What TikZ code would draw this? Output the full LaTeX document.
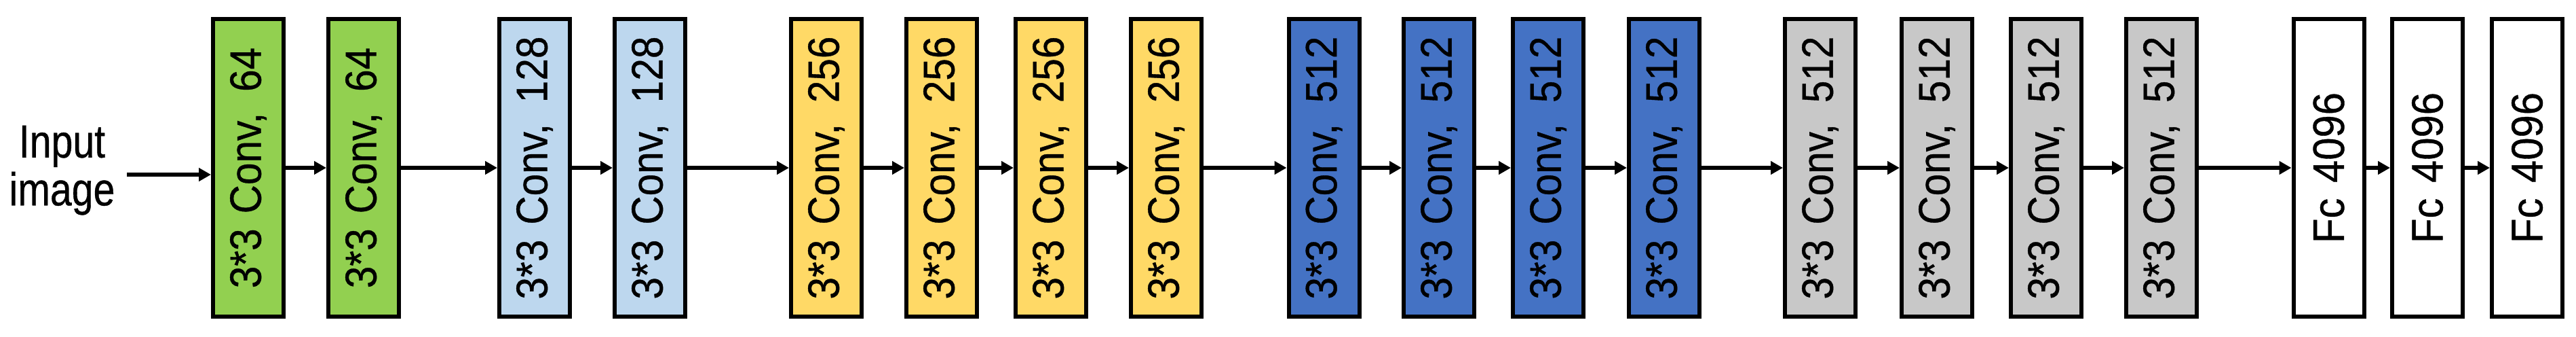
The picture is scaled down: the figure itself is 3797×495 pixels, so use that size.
\documentclass[tikz,border=0pt]{standalone}
\usepackage{fontspec}
\setmainfont{Liberation Sans}
\newfontfamily\lyrfont{Liberation Sans}[FakeBold=0.6]
\usepackage{graphicx}
\usetikzlibrary{arrows.meta}
\definecolor{cgreen}{HTML}{92D050}
\definecolor{clblue}{HTML}{BDD7EE}
\definecolor{cyellow}{HTML}{FFD966}
\definecolor{cdblue}{HTML}{4472C4}
\definecolor{cgray}{HTML}{C8C8C8}
\newcommand\convtxt[1]{\rotatebox{90}{\scalebox{0.9}[1]{3*3\hspace{0.1em} Conv,\hspace{0.25em} #1}}}
\newcommand\fctxt[1]{\rotatebox{90}{\scalebox{0.92}[1]{Fc\hspace{0.1em} #1}}}
\begin{document}
\begin{tikzpicture}[x=0.1mm,y=-0.1mm,
  layer/.style={draw=black, line width=0.6mm, outer sep=0.3mm, inner sep=0pt,
    minimum width=10.4mm, minimum height=43.8mm,
    font=\lyrfont\fontsize{18.5pt}{20pt}\selectfont},
  arr/.style={line width=0.55mm, -{Triangle[length=1.8mm,width=1.9mm]}},
  lbl/.style={inner sep=0pt, font=\lyrfont\fontsize{18.5pt}{19pt}\selectfont}]
\useasboundingbox (0,0) rectangle (3797,495);
\node[lbl] (inp) at (91.5,253) {\scalebox{0.88}[1.05]{\begin{tabular}{@{}c@{}}Input\\image\end{tabular}}};
\node[layer,fill=cgreen] (g1) at (366,247) {\convtxt{64}};
\node[layer,fill=cgreen] (g2) at (536,247) {\convtxt{64}};
\node[layer,fill=clblue] (b1) at (788,247) {\convtxt{128}};
\node[layer,fill=clblue] (b2) at (958,247) {\convtxt{128}};
\node[layer,fill=cyellow] (y1) at (1218,247) {\convtxt{256}};
\node[layer,fill=cyellow] (y2) at (1388,247) {\convtxt{256}};
\node[layer,fill=cyellow] (y3) at (1549,247) {\convtxt{256}};
\node[layer,fill=cyellow] (y4) at (1719,247) {\convtxt{256}};
\node[layer,fill=cdblue] (d1) at (1951.5,247) {\convtxt{512}};
\node[layer,fill=cdblue] (d2) at (2121,247) {\convtxt{512}};
\node[layer,fill=cdblue] (d3) at (2282,247) {\convtxt{512}};
\node[layer,fill=cdblue] (d4) at (2453,247) {\convtxt{512}};
\node[layer,fill=cgray] (s1) at (2683,247) {\convtxt{512}};
\node[layer,fill=cgray] (s2) at (2855,247) {\convtxt{512}};
\node[layer,fill=cgray] (s3) at (3016,247) {\convtxt{512}};
\node[layer,fill=cgray] (s4) at (3186,247) {\convtxt{512}};
\node[layer,fill=white] (w1) at (3432.5,247) {\fctxt{4096}};
\node[layer,fill=white] (w2) at (3578,247) {\fctxt{4096}};
\node[layer,fill=white] (w3) at (3725,247) {\fctxt{4096}};
\coordinate (in0) at (187,257);
\draw[arr] (in0) -- (in0 -| g1.west);
\draw[arr] (g1) -- (g2);
\draw[arr] (g2) -- (b1);
\draw[arr] (b1) -- (b2);
\draw[arr] (b2) -- (y1);
\draw[arr] (y1) -- (y2);
\draw[arr] (y2) -- (y3);
\draw[arr] (y3) -- (y4);
\draw[arr] (y4) -- (d1);
\draw[arr] (d1) -- (d2);
\draw[arr] (d2) -- (d3);
\draw[arr] (d3) -- (d4);
\draw[arr] (d4) -- (s1);
\draw[arr] (s1) -- (s2);
\draw[arr] (s2) -- (s3);
\draw[arr] (s3) -- (s4);
\draw[arr] (s4) -- (w1);
\draw[arr] (w1) -- (w2);
\draw[arr] (w2) -- (w3);
\end{tikzpicture}
\end{document}
